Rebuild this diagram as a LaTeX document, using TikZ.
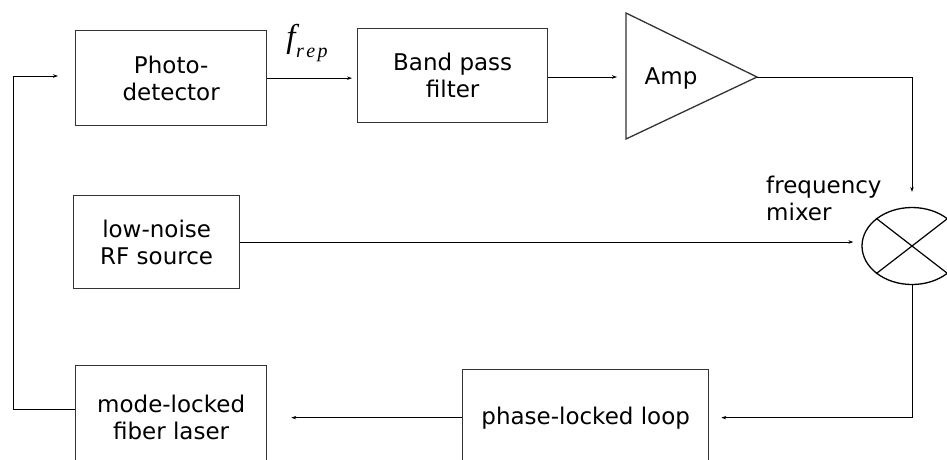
\documentclass[tikz,border=0pt]{standalone}
\usepackage{fontspec}
\setmainfont{DejaVu Sans}
\newfontfamily\mathserif{Liberation Serif}
\usetikzlibrary{arrows.meta,shapes.geometric}

\begin{document}
\begin{tikzpicture}[x=1pt,y=-1pt,
  blk/.style={draw=black!80, line width=1.3pt, rectangle, anchor=north west,
    align=center, inner sep=0pt, font=\fontsize{23}{27}\selectfont},
  lbl/.style={inner sep=0pt, align=center, font=\fontsize{23}{27}\selectfont},
  conn/.style={draw=black, line width=1pt, -{Stealth[length=5pt,width=3.5pt]}},
  wire/.style={draw=black, line width=1pt}]

\useasboundingbox (0,0) rectangle (947,459);
\clip (0,0) rectangle (947,459);

% top row
\node[blk, minimum width=191pt, minimum height=95pt] (pd) at (75,30)
  {Photo-\\detector};
\node[blk, minimum width=190pt, minimum height=94pt] (bpf) at (357,28)
  {Band pass\\filter};

% amplifier triangle
\coordinate (ampL) at (626,77);
\coordinate (ampT) at (757,77);
\draw[black!80, line width=1.3pt] (626,13) -- (ampT) -- (626,139) -- cycle;
\node[lbl] (amp) at (671,79) {Amp};

% middle row
\node[blk, minimum width=166pt, minimum height=93pt] (rf) at (73,195)
  {low-noise\\RF source};

% frequency mixer
\node[draw=black, line width=1.3pt, ellipse, minimum width=100pt,
  minimum height=77pt, inner sep=0pt] (mix) at (912,246) {};
\draw[black, line width=1.2pt] (mix.north west) -- (mix.south east);
\draw[black, line width=1.2pt] (mix.south west) -- (mix.north east);
\node[lbl, anchor=west, align=left] (mixlbl) at (766,198)
  {frequency\\mixer};

% bottom row
\node[blk, minimum width=191pt, minimum height=104pt] (laser) at (75,365)
  {mode-locked\\fiber laser};
\node[blk, minimum width=246pt, minimum height=96pt] (pll) at (462,369)
  {phase-locked loop};

% repetition-rate label
\node[inner sep=0pt] (frep) at (307,43)
  {{\mathserif\itshape\fontsize{33}{33}\selectfont f}\kern0.5pt%
   \raisebox{-10pt}{\mathserif\itshape\fontsize{20}{20}\selectfont
   r\kern2.5pt e\kern2.5pt p}};

% signal path
\draw[conn, shorten >=5pt] (pd.east) -- (pd.east -| bpf.west);
\draw[conn, shorten >=9pt] (bpf.east |- ampL) -- (ampL);
\draw[conn, shorten >=15pt] (ampT) -| (mix.north);
\draw[conn, shorten >=8pt] (rf.east |- 0,242) -- (mix.west |- 0,242);
\draw[conn, shorten >=12pt] (mix.south) |- (pll.east);
\draw[conn, shorten >=24pt] (pll.west) -- (laser.east);

% feedback to the photodetector
\coordinate (fbout) at (75,409);
\coordinate (fbcorner) at (13,76);
\draw[wire] (fbout) -| (fbcorner);
\draw[conn, shorten >=17pt] (fbcorner) -- (fbcorner -| pd.west);

\end{tikzpicture}
\end{document}
